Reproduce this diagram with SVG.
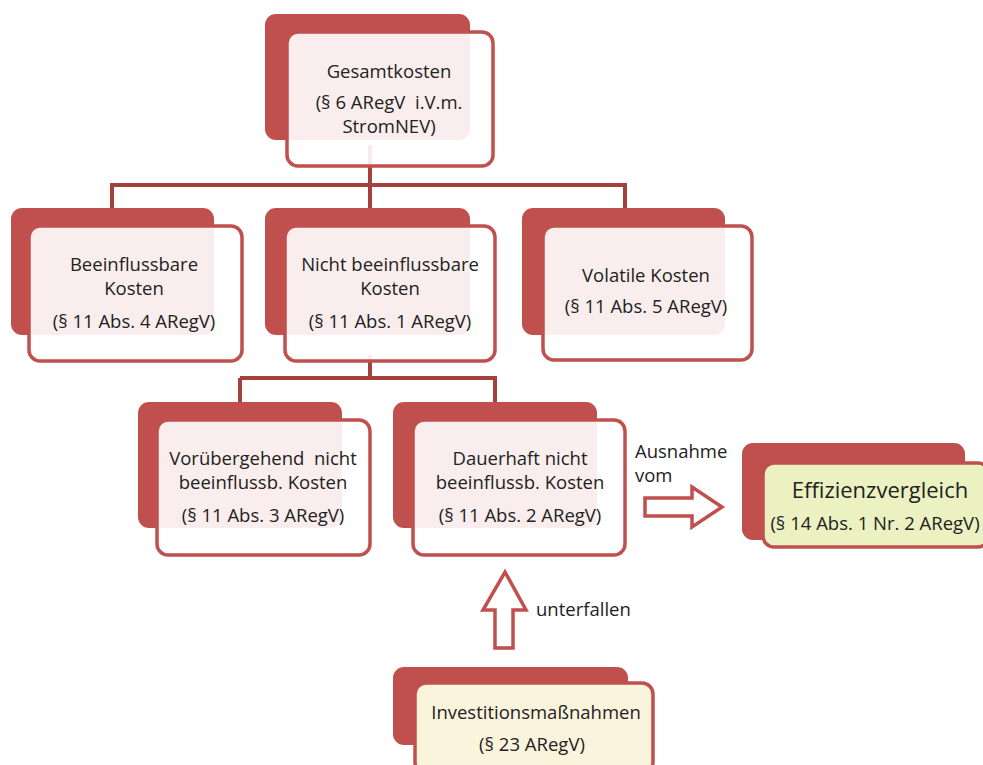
<svg xmlns="http://www.w3.org/2000/svg" width="983" height="765" viewBox="0 0 983 765">
<style>
.back{fill:#C0504D}
.front{fill:#FFFFFF;fill-opacity:0.9;stroke:#C0504D;stroke-width:3.5}
.green{fill:#EBF1C1;fill-opacity:1}
.cream{fill:#FBF4DC;fill-opacity:1}
.conn{fill:none;stroke:#A5403D;stroke-width:4}
.barrow{fill:#FFFFFF;stroke:#C0504D;stroke-width:3.5;stroke-linejoin:miter}
text{font-family:"Open Sans","Liberation Sans",sans-serif;font-size:18.5px;fill:#222222;text-anchor:middle}
.lbl{text-anchor:start}
.big{font-size:22px}
</style>
<g id="connectors">
<path class="conn" d="M370 145 V185 M110 185 H627 M112 185 V210 M370 185 V210 M625 185 V210"/>
<path class="conn" d="M370 355 V378 M240 378 H497 M240 378 V404 M495 378 V404"/>
<path class="barrow" d="M645 498 H692 V487 L722 507 L692 527 V516 H645 Z"/>
<path class="barrow" d="M495 648 V610 H483 L505 572 L526 610 H513 V648 Z"/>
</g>
<g id="gesamtkosten">
<rect class="back" x="265" y="14" width="205" height="126" rx="11"/>
<rect class="front" x="287" y="32" width="206" height="134" rx="11"/>
<text x="389" y="78">Gesamtkosten</text>
<text x="389" y="109" xml:space="preserve">(§ 6 ARegV  i.V.m.</text>
<text x="389" y="133">StromNEV)</text>
</g>
<g id="beeinflussbare">
<rect class="back" x="11" y="208" width="203" height="127" rx="11"/>
<rect class="front" x="29" y="226" width="213" height="135" rx="11"/>
<text x="134" y="271">Beeinflussbare</text>
<text x="134" y="295">Kosten</text>
<text x="134" y="328">(§ 11 Abs. 4 ARegV)</text>
</g>
<g id="nicht-beeinflussbare">
<rect class="back" x="265" y="208" width="205" height="127" rx="11"/>
<rect class="front" x="285" y="226" width="210" height="135" rx="11"/>
<text x="390" y="271">Nicht beeinflussbare</text>
<text x="390" y="295">Kosten</text>
<text x="390" y="328">(§ 11 Abs. 1 ARegV)</text>
</g>
<g id="volatile">
<rect class="back" x="522" y="208" width="203" height="127" rx="11"/>
<rect class="front" x="543" y="226" width="209" height="134" rx="11"/>
<text x="646" y="282">Volatile Kosten</text>
<text x="646" y="313">(§ 11 Abs. 5 ARegV)</text>
</g>
<g id="voruebergehend">
<rect class="back" x="138" y="402" width="204" height="126" rx="11"/>
<rect class="front" x="157" y="420" width="213" height="135" rx="11"/>
<text x="263" y="465" xml:space="preserve">Vorübergehend  nicht</text>
<text x="263" y="489">beeinflussb. Kosten</text>
<text x="263" y="522">(§ 11 Abs. 3 ARegV)</text>
</g>
<g id="dauerhaft">
<rect class="back" x="393" y="402" width="204" height="126" rx="11"/>
<rect class="front" x="413" y="420" width="212" height="135" rx="11"/>
<text x="520" y="465">Dauerhaft nicht</text>
<text x="520" y="489">beeinflussb. Kosten</text>
<text x="520" y="522">(§ 11 Abs. 2 ARegV)</text>
</g>
<g id="ausnahme-label">
<text class="lbl" x="635" y="458">Ausnahme</text>
<text class="lbl" x="635" y="482">vom</text>
</g>
<g id="effizienzvergleich">
<rect class="back" x="742" y="443" width="223" height="97" rx="11"/>
<rect class="front green" x="763" y="463" width="226" height="84" rx="11"/>
<text class="big" x="880" y="498">Effizienzvergleich</text>
<text x="875" y="530">(§ 14 Abs. 1 Nr. 2 ARegV)</text>
</g>
<g id="unterfallen-label">
<text class="lbl" x="536" y="616">unterfallen</text>
</g>
<g id="investitionsmassnahmen">
<rect class="back" x="393" y="667" width="235" height="78" rx="11"/>
<rect class="front cream" x="415" y="683" width="238" height="90" rx="11"/>
<text x="536" y="719">Investitionsmaßnahmen</text>
<text x="532" y="751">(§ 23 ARegV)</text>
</g>
</svg>
